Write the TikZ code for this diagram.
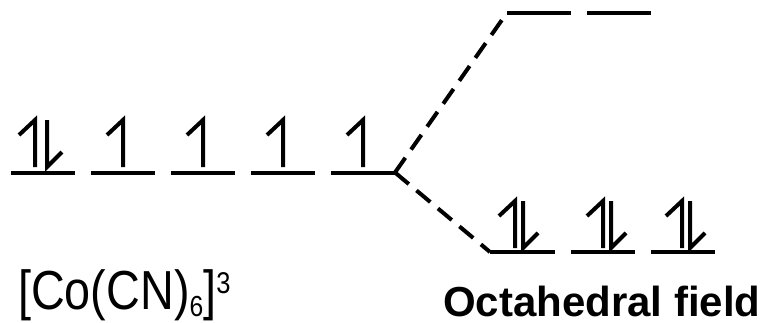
\documentclass[tikz,border=0pt]{standalone}
\usepackage{fontspec}
\setmainfont{Liberation Sans}
\begin{document}
\begin{tikzpicture}[x=1pt,y=-1pt,
  level/.style={line width=4pt},
  spin/.style={line width=4pt,line join=miter},
  split/.style={line width=4pt,dash pattern=on 18pt off 10pt},
  upspin/.pic={\draw[spin] (0,0) -- (0,-47) -- (-16,-32);},
  downspin/.pic={\draw[spin] (0,-47) -- (0,0) -- (15,-15);}]
\useasboundingbox (0,0) rectangle (765,322);
% free-ion d levels
\foreach \i/\xa in {1/11,2/91,3/171,4/251,5/331}{
  \coordinate (d\i l) at (\xa,172.5);
  \coordinate (d\i r) at (\xa+64,172.5);
  \draw[level] (d\i l) -- (d\i r);
}
% electrons in free ion
\pic at (35,167) {upspin};
\pic at (47,167) {downspin};
\pic at (123,167) {upspin};
\pic at (203,167) {upspin};
\pic at (283,167) {upspin};
\pic at (363,167) {upspin};
% eg levels
\coordinate (eg1l) at (507,12.7);
\coordinate (eg1r) at (571,12.7);
\coordinate (eg2l) at (587,12.7);
\coordinate (eg2r) at (651,12.7);
\draw[level] (eg1l) -- (eg1r);
\draw[level] (eg2l) -- (eg2r);
% t2g levels
\coordinate (t1l) at (490,252);
\coordinate (t1r) at (555,252);
\coordinate (t2l) at (571,252);
\coordinate (t2r) at (635,252);
\coordinate (t3l) at (651,252);
\coordinate (t3r) at (715,252);
\draw[level] (t1l) -- (t1r);
\draw[level] (t2l) -- (t2r);
\draw[level] (t3l) -- (t3r);
% electrons in t2g
\pic at (515,248) {upspin};
\pic at (523,248) {downspin};
\pic at (603,248) {upspin};
\pic at (611,248) {downspin};
\pic at (682,248) {upspin};
\pic at (690,248) {downspin};
% splitting lines
\draw[split] (d5r) -- (eg1l);
\draw[split] (d5r) -- (t1l);
% labels
\node[anchor=base west,inner sep=0pt,font=\fontsize{55}{55}\selectfont] (ion) at (18,309)
  {\scalebox{0.85}[1]{[Co(CN)\raisebox{-7pt}{\fontsize{29}{29}\selectfont 6}]\raisebox{16pt}{\fontsize{30}{30}\selectfont 3}}};
\node[anchor=base west,inner sep=0pt,font=\fontsize{42}{42}\selectfont\bfseries] (field) at (443,316) {Octahedral field};
\end{tikzpicture}
\end{document}
